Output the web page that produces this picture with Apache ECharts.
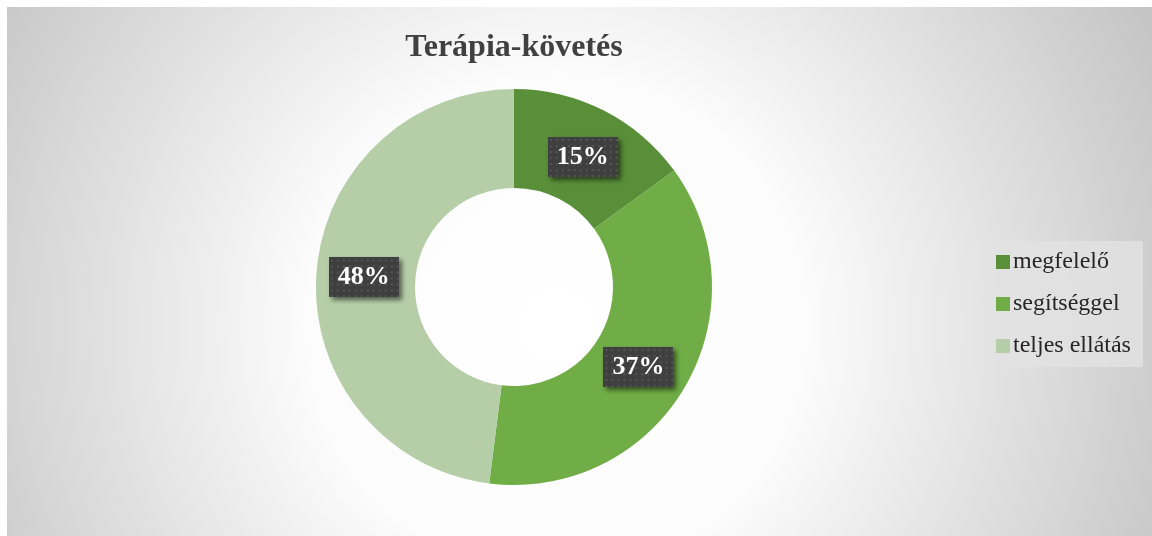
<!DOCTYPE html>
<html lang="hu">
<head>
    <meta charset="UTF-8">
    <title>Terápia-követés</title>
    <script src="https://cdnjs.cloudflare.com/ajax/libs/echarts/6.0.0/echarts.min.js"></script>
    <style>
        html, body { margin: 0; padding: 0; background: #fff; }
        #container {
            position: absolute;
            left: 7px;
            top: 7px;
            width: 1145px;
            height: 529px;
        }
    </style>
</head>
<body>
<div id="container"></div>
<script>
    // adatok
    var categories = ['megfelelő', 'segítséggel', 'teljes ellátás'];
    var values = [15, 37, 48];
    var colors = ['#5a8f3a', '#70ad47', '#b5cea8'];
    // címkék kis eltolása (Excel-szerű elhelyezés)
    var labelOffsets = [[0, 5], [-6, 3], [1, 0]];

    // pöttyös háttér a címkékhez
    var dots = document.createElement('canvas');
    dots.width = 70;
    dots.height = 40;
    var ctx = dots.getContext('2d');
    ctx.fillStyle = '#3f3f3f';
    ctx.fillRect(0, 0, 70, 40);
    ctx.fillStyle = '#555555';
    for (var y = 2; y < 40; y += 6) {
        for (var x = 2; x < 70; x += 6) {
            ctx.fillRect(x, y, 2, 2);
        }
    }

    var myChart = echarts.init(document.getElementById('container'));

    var data = [];
    for (var i = 0; i < categories.length; i++) {
        data.push({
            name: categories[i],
            value: values[i],
            itemStyle: { color: colors[i] },
            label: { offset: labelOffsets[i] }
        });
    }

    var option = {
        backgroundColor: {
            type: 'radial',
            x: 0.48, y: 0.6, r: 1.3,
            colorStops: [
                { offset: 0, color: '#ffffff' },
                { offset: 0.36, color: '#fcfcfc' },
                { offset: 0.8, color: '#d4d4d4' },
                { offset: 1, color: '#c2c2c2' }
            ]
        },
        title: {
            text: 'Terápia-követés',
            left: 502,
            top: 20,
            textAlign: 'center',
            textStyle: {
                fontFamily: 'Liberation Serif',
                fontWeight: 'bold',
                fontSize: 32,
                color: '#404040'
            }
        },
        legend: {
            orient: 'vertical',
            left: 976,
            top: 234,
            padding: [9, 12, 9, 13],
            itemGap: 18,
            itemWidth: 14,
            itemHeight: 14,
            icon: 'rect',
            backgroundColor: 'rgba(226,226,226,0.8)',
            textStyle: {
                fontFamily: 'Liberation Serif',
                fontSize: 24,
                color: '#262626',
                padding: [0, 0, 0, -2]
            },
            data: categories
        },
        series: [{
            type: 'pie',
            center: [507, 280],
            radius: [99, 198],
            startAngle: 90,
            clockwise: true,
            avoidLabelOverlap: false,
            itemStyle: { borderWidth: 0 },
            label: {
                show: true,
                position: 'inside',
                formatter: '{d}%',
                fontFamily: 'Liberation Serif',
                fontWeight: 'bold',
                fontSize: 26,
                color: '#ffffff',
                backgroundColor: { image: dots },
                padding: [7, 9, 7, 9],
                shadowColor: 'rgba(0,0,0,0.55)',
                shadowBlur: 5,
                shadowOffsetX: 3,
                shadowOffsetY: 3
            },
            labelLine: { show: false },
            emphasis: { scale: false },
            data: data
        }]
    };

    myChart.setOption(option);
</script>
</body>
</html>
